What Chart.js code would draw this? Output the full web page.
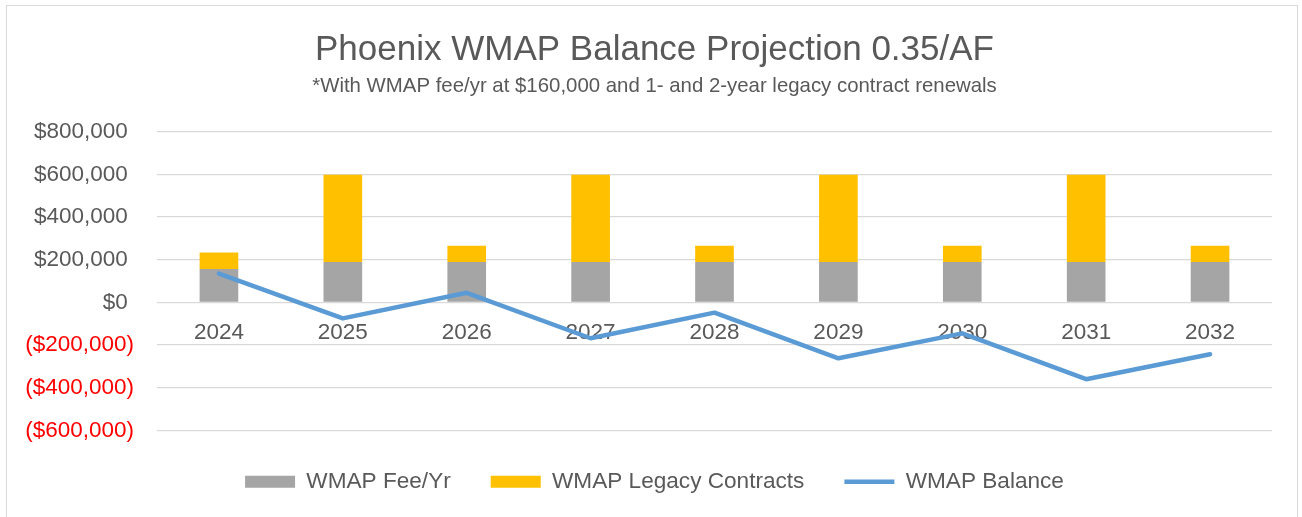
<!DOCTYPE html>
<html>
<head>
<meta charset="utf-8">
<title>Phoenix WMAP Balance Projection</title>
<script src="https://cdn.jsdelivr.net/npm/chart.js@4.4.1/dist/chart.umd.min.js"></script>
<style>
  html, body { margin: 0; padding: 0; background: #fff; }
  #wrap { position: relative; width: 1302px; height: 517px; overflow: hidden; }
  #frame { position: absolute; left: 6px; top: 5px; width: 1292px; height: 540px; border: 1.5px solid #d9d9d9; box-sizing: border-box; }
  canvas { position: absolute; left: 0; top: 0; }
</style>
</head>
<body>
<div id="wrap">
  <div id="frame"></div>
  <canvas id="wmapChart" width="1302" height="517"></canvas>
</div>
<script>
// ── WMAP balance chart ──
const years = ['2024', '2025', '2026', '2027', '2028', '2029', '2030', '2031', '2032'];
const feePerYear = [157000, 190000, 190000, 190000, 190000, 190000, 190000, 190000, 190000];
const legacyContracts = [77000, 408000, 76000, 408000, 76000, 408000, 76000, 408000, 76000];
const wmapBalance = [135000, -75000, 45000, -168000, -48000, -262000, -145000, -360000, -243000];
const yTicks = { min: -600000, max: 800000, step: 200000 };

const GREY_TEXT = '#595959';
Chart.defaults.font.family = 'Liberation Sans, Arial, sans-serif';
Chart.defaults.color = GREY_TEXT;

function money(v) {
  const s = '$' + Math.abs(v).toLocaleString('en-US');
  return v < 0 ? '(' + s + ')' : s + ' ';
}

const ctx = document.getElementById('wmapChart').getContext('2d');
new Chart(ctx, {
  type: 'bar',
  data: {
    labels: years,
    datasets: [
      { label: 'WMAP Fee/Yr', data: feePerYear, backgroundColor: '#a5a5a5', stack: 'wmap', pointStyle: 'rect',
        barPercentage: 0.312, categoryPercentage: 1 },
      { label: 'WMAP Legacy Contracts', data: legacyContracts, backgroundColor: '#ffc000', stack: 'wmap', pointStyle: 'rect',
        barPercentage: 0.312, categoryPercentage: 1 },
      { type: 'line', label: 'WMAP Balance', data: wmapBalance, stack: 'balance', order: -1,
        borderColor: '#5b9bd5', backgroundColor: '#5b9bd5', borderWidth: 4.5, pointRadius: 0, pointStyle: 'line',
        tension: 0, borderCapStyle: 'round', borderJoinStyle: 'round', fill: false }
    ]
  },
  options: {
    responsive: false,
    animation: false,
    devicePixelRatio: 1,
    layout: { padding: { top: 0, left: 7, right: 0, bottom: 14 } },
    plugins: {
      title: {
        display: true,
        text: 'Phoenix WMAP Balance Projection 0.35/AF',
        color: GREY_TEXT,
        font: { size: 35, weight: 'normal' },
        padding: { top: 29.3, bottom: 3 }
      },
      subtitle: {
        display: true,
        text: '*With WMAP fee/yr at $160,000 and 1- and 2-year legacy contract renewals',
        color: GREY_TEXT,
        font: { size: 20.4 },
        padding: { top: 0, bottom: 33 }
      },
      legend: {
        position: 'bottom',
        labels: {
          usePointStyle: true,
          pointStyleWidth: 50,
          boxHeight: 12,
          padding: 40,
          color: GREY_TEXT,
          font: { size: 22.6 },
          sort: (a, b) => a.datasetIndex - b.datasetIndex
        }
      },
      tooltip: { enabled: false }
    },
    scales: {
      x: {
        stacked: true,
        position: { y: 0 },
        afterFit: s => { s.height = 0; },
        grid: { display: false, drawTicks: false },
        border: { display: false },
        ticks: { color: GREY_TEXT, font: { size: 22.5 }, padding: 17, maxRotation: 0 }
      },
      y: {
        stacked: true,
        position: 'left',
        min: yTicks.min,
        max: yTicks.max,
        afterFit: s => { s.width = 150; },
        grid: { color: '#d9d9d9', lineWidth: 1.3, drawTicks: false },
        border: { display: false },
        ticks: {
          stepSize: yTicks.step,
          padding: 23,
          font: { size: 22.5 },
          color: c => c.tick.value < 0 ? '#ff0000' : GREY_TEXT,
          callback: v => money(v)
        }
      },
      yRight: {
        position: 'right',
        afterFit: s => { s.width = 30; },
        grid: { display: false, drawTicks: false },
        border: { display: false },
        ticks: { display: false }
      }
    }
  }
});
</script>
</body>
</html>
